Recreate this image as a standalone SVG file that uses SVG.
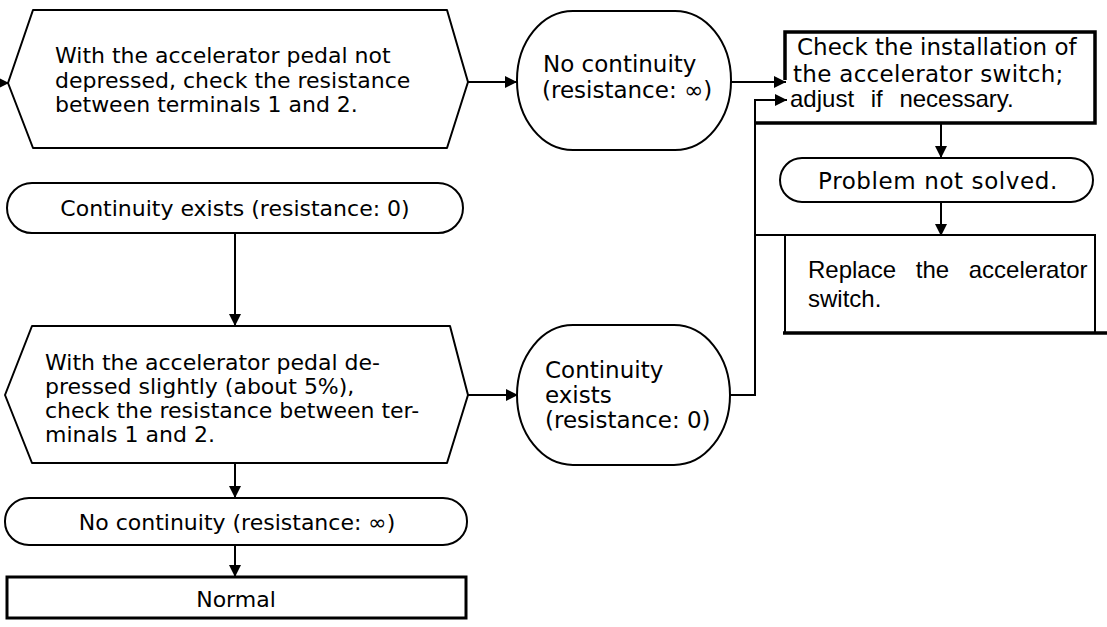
<svg xmlns="http://www.w3.org/2000/svg" width="1107" height="627" viewBox="0 0 1107 627">
<style>
text{font-family:"DejaVu Sans","Liberation Sans",Arial,sans-serif;fill:#000}
.t{font-size:22px}
.tb{font-size:23px}
.h{font-family:"Liberation Sans",Arial,Helvetica,sans-serif;font-size:24px}
.n{fill:#fff;stroke:#000;stroke-width:2;stroke-linejoin:round}
.k{fill:none;stroke:#000;stroke-width:3.5}
.c{fill:none;stroke:#000;stroke-width:2}
.ca{fill:none;stroke:#000;stroke-width:2;marker-end:url(#ah)}
</style>
<defs>
<marker id="ah" markerUnits="userSpaceOnUse" markerWidth="12" markerHeight="12" refX="12" refY="6" orient="auto">
<path d="M0,0 L12,6 L0,12 z" fill="#000"/>
</marker>
</defs>
<rect width="1107" height="627" fill="#fff"/>
<g id="connectors">
<path class="ca" d="M0,83 H9"/>
<path class="ca" d="M468,82 H517"/>
<path class="ca" d="M731,82 H786"/>
<path class="ca" d="M941,123 V158"/>
<path class="ca" d="M941,202 V236"/>
<path class="ca" d="M235,233 V326"/>
<path class="ca" d="M235,463 V498"/>
<path class="ca" d="M235,545 V577"/>
<path class="ca" d="M468,395 H518"/>
<path class="ca" d="M730,395 H755 V100 H787"/>
<path class="c" d="M755,123 H785"/>
<path class="c" d="M755,235 H785"/>
</g>
<g id="n1">
<path class="n" d="M8,83 L33,10 H447 L468,82 L447,148 H33 Z"/>
<text class="t" x="55" y="63">With the accelerator pedal not</text>
<text class="t" x="55" y="87.5">depressed, check the resistance</text>
<text class="t" x="55" y="112">between terminals 1 and 2.</text>
</g>
<g id="n2">
<rect class="n" x="7" y="183" width="456" height="50" rx="25" ry="25"/>
<text class="t" x="235" y="216" text-anchor="middle">Continuity exists (resistance: 0)</text>
</g>
<g id="n3">
<path class="n" d="M5,395 L32,326 H450 L468,395 L447,463 H32 Z"/>
<text class="t" x="45" y="370">With the accelerator pedal de-</text>
<text class="t" x="45" y="394">pressed slightly (about 5%),</text>
<text class="t" x="45" y="418">check the resistance between ter-</text>
<text class="t" x="45" y="442">minals 1 and 2.</text>
</g>
<g id="n4">
<rect class="n" x="5" y="498" width="462" height="47" rx="24" ry="23"/>
<text class="t" x="237" y="530" text-anchor="middle">No continuity (resistance: ∞)</text>
</g>
<g id="n5">
<rect x="7" y="577" width="459" height="41" fill="#fff" stroke="#000" stroke-width="3"/>
<text class="t" x="236" y="607" text-anchor="middle">Normal</text>
</g>
<g id="n6">
<rect class="n" x="517" y="11" width="214" height="139" rx="56" ry="69"/>
<text class="tb" x="543" y="72">No continuity</text>
<text class="tb" x="542" y="98">(resistance: ∞)</text>
</g>
<g id="n7">
<rect class="n" x="517" y="325" width="213" height="140" rx="56" ry="70"/>
<text class="tb" x="545" y="378">Continuity</text>
<text class="tb" x="545" y="403">exists</text>
<text class="tb" x="545" y="428">(resistance: 0)</text>
</g>
<g id="n8">
<path class="k" d="M785,80 V32 H1095 V123 H755" stroke-width="3"/>
<text class="tb" x="797" y="55">Check the installation of</text>
<text class="tb" x="793" y="82" letter-spacing="0.3">the accelerator switch;</text>
<text class="h" x="790" y="107" font-size="26" word-spacing="10">adjust if necessary.</text>
</g>
<g id="n9">
<rect class="n" x="780" y="158" width="313" height="44" rx="22" ry="22"/>
<text class="tb" x="938" y="189" text-anchor="middle" letter-spacing="0.6">Problem not solved.</text>
</g>
<g id="n10">
<path class="c" d="M785,235 H1095 V333 M785,235 V333"/>
<path class="k" d="M783,333 H1107"/>
<text class="h" x="808" y="278" word-spacing="13">Replace the accelerator</text>
<text class="h" x="808" y="307">switch.</text>
</g>
</svg>
